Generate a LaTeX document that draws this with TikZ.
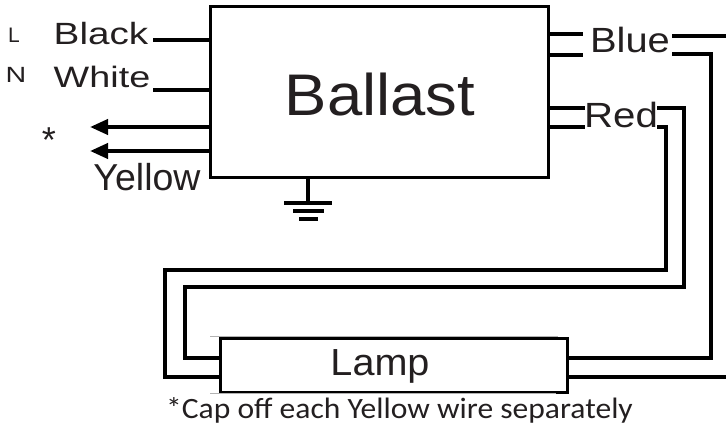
\documentclass[tikz,border=0pt]{standalone}
\usepackage{fontspec}
\setmainfont{Liberation Sans}
\newfontfamily\capfont{Carlito}
\usetikzlibrary{arrows.meta}
\definecolor{ink}{HTML}{231F20}
\newcommand\lbl[3]{\scalebox{#2}[1]{\fontsize{#1}{#1}\selectfont #3}}
\begin{document}
\begin{tikzpicture}[x=1pt,y=-1pt,
  wire/.style={line width=4pt, line cap=butt, line join=miter},
  box/.style={draw, line width=3pt, inner sep=0pt, fill=white},
  txt/.style={anchor=base, inner sep=0pt, text=ink},
  shade/.style={draw=gray!60, line width=1pt},
  tip/.style={-{Triangle[length=18pt,width=15pt]}}]
\useasboundingbox (0,0) rectangle (726,428);
% boxes
\node[box, minimum width=338pt, minimum height=170pt] (ballast) at (379,92) {};
\node[box, minimum width=347pt, minimum height=54pt] (lamp) at (393.5,365) {};
\draw[shade] (210,336.5) -- (558,336.5);
\draw[shade] (210,393.5) -- (556,393.5);
% texts
\node[txt] (tball) at (380,115) {\lbl{58.7}{1.08}{Ballast}};
\node[txt] (tlamp) at (380,375) {\lbl{37.7}{1.05}{Lamp}};
\node[txt] (tL) at (14,43) {\lbl{21}{1.0}{L}};
\node[txt] (tN) at (16,83) {\lbl{22}{1.3}{N}};
\node[txt] (tast) at (49,152) {\lbl{36}{1.0}{*}};
\node[txt] (tblack) at (101,45) {\lbl{30.7}{1.26}{Black}};
\node[txt] (twhite) at (102,88) {\lbl{29.5}{1.28}{White}};
\node[txt] (tyellow) at (147,190) {\lbl{37.5}{1.0}{Yellow}};
\node[txt] (tblue) at (630,53) {\lbl{35}{1.14}{Blue}};
\node[txt] (tred) at (621,128) {\lbl{35}{1.15}{Red}};
\node[txt] (tcap) at (399.5,418) {\scalebox{1.07}[1]{\capfont\fontsize{29.5}{29.5}\selectfont *Cap off each Yellow wire separately}};
% free ends
\coordinate (bk) at (153,40);
\coordinate (wh) at (153,90);
\coordinate (y1) at (90,127);
\coordinate (y2) at (90,151);
\coordinate (bu1) at (583,34);
\coordinate (bu2) at (583,55);
\coordinate (rd1) at (585,108);
\coordinate (rd2) at (585,127);
\coordinate (bo1) at (672,36);
\coordinate (bo2) at (672,54);
\coordinate (ro1) at (657,108);
\coordinate (ro2) at (657,127);
\coordinate (edge1) at (726,36);
\coordinate (edge2) at (726,377);
\coordinate (gnd) at (308,203);
% left wires
\draw[wire] (bk) -- (bk -| ballast.west);
\draw[wire] (wh) -- (wh -| ballast.west);
\draw[wire, tip] (y1 -| ballast.west) -- (y1);
\draw[wire, tip] (y2 -| ballast.west) -- (y2);
% right stubs
\draw[wire] (bu1 -| ballast.east) -- (bu1);
\draw[wire] (bu2 -| ballast.east) -- (bu2);
\draw[wire] (rd1 -| ballast.east) -- (rd1);
\draw[wire] (rd2 -| ballast.east) -- (rd2);
% long runs
\draw[wire] (bo1) -- (edge1);
\draw[wire] (bo2) -| (711,358) -- (lamp.east |- 0,358);
\draw[wire] (ro1) -| (684,287) -| (185,358) -- (lamp.west |- 0,358);
\draw[wire] (ro2) -| (666,270) -| (165,377) -- (lamp.west |- 0,377);
\draw[wire] (lamp.east |- edge2) -- (edge2);
% ground
\draw[wire] (ballast.south -| gnd) -- (gnd);
\draw[wire] (284,203) -- (332,203);
\draw[wire] (293,211) -- (324,211);
\draw[wire] (299,219) -- (318,219);
\end{tikzpicture}
\end{document}
